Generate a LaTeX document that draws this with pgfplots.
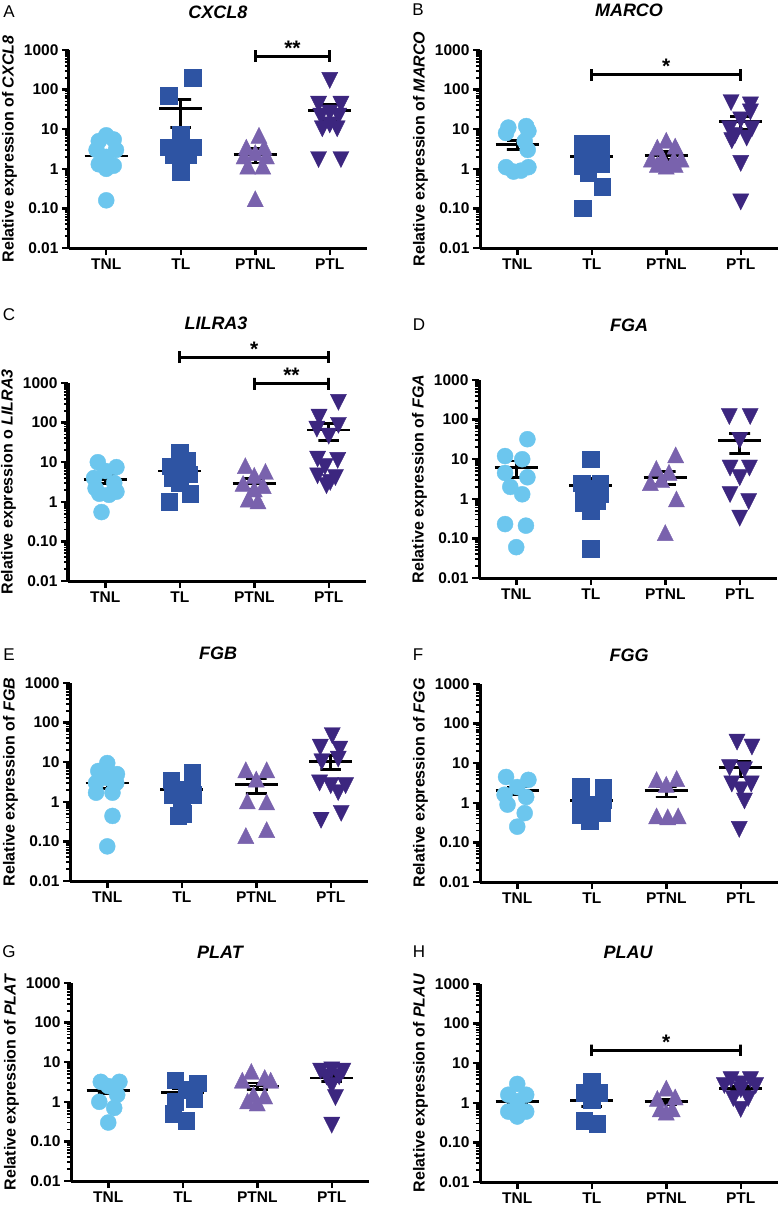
\documentclass[border=0pt]{standalone}
\usepackage{pgfplots}
\pgfplotsset{compat=1.18}
\usepackage{fontspec}
\setmainfont{Liberation Sans}
\definecolor{cTNL}{RGB}{108,198,238}
\definecolor{cTL}{RGB}{46,84,163}
\definecolor{cPTNL}{RGB}{121,98,173}
\definecolor{cPTL}{RGB}{60,38,127}
\pgfplotsset{
  every axis/.append style={
    scale only axis, width=298pt, height=198pt, anchor=south west,
    ymin=0.01, ymax=1000, xmin=-0.5, xmax=3.5,
    axis lines=left, axis line style={-, line width=3pt},
    clip=false,
    xtick={0,1,2,3}, xticklabels={TNL,TL,PTNL,PTL},
    ytick={0.01,0.1,1,10,100,1000}, yticklabels={0.01,0.10,1,10,100,1000},
    minor ytick={0.02,0.03,0.04,0.05,0.06,0.07,0.08,0.09,0.2,0.3,0.4,0.5,0.6,0.7,0.8,0.9,2,3,4,5,6,7,8,9,20,30,40,50,60,70,80,90,200,300,400,500,600,700,800,900},
    tick align=outside,
    major tick length=7pt, minor tick length=4pt,
    major tick style={line width=2.5pt, black},
    minor tick style={line width=1.8pt, black},
    tick label style={font=\fontsize{15.5}{18}\selectfont\bfseries},
    every axis y label/.style={at={(axis description cs:-0.2,0.5)}, rotate=90, anchor=center, font=\fontsize{16}{19}\selectfont\bfseries},
  },
  tnl/.style={only marks, mark=*, mark size=8pt, color=cTNL},
  tl/.style={only marks, mark=square*, mark size=8.2pt, color=cTL},
  ptnl/.style={only marks, mark=triangle*, mark size=9.3pt, color=cPTNL, mark options={yscale=1.15}},
  ptl/.style={only marks, mark=triangle*, mark size=9.3pt, color=cPTL, mark options={rotate=180, yscale=1.15}},
  semline/.style={black, line width=2.8pt, mark=none},
  brk/.style={black, line width=3pt, mark=none},
}
\tikzset{star/.style={anchor=base, inner sep=0pt, yshift=1pt, font=\fontsize{21}{24}\selectfont\bfseries},
  ttl/.style={font=\fontsize{18}{22}\selectfont\bfseries\itshape, anchor=center},
  lett/.style={font=\fontsize{17}{20}\selectfont, anchor=center}}
\newcommand{\msem}[4]{%
  \ifcase#1 \def\xa{-0.29}\def\xb{0.29}\def\xc{-0.14}\def\xd{0.14}\def\xe{0}%
  \or \def\xa{0.71}\def\xb{1.29}\def\xc{0.86}\def\xd{1.14}\def\xe{1}%
  \or \def\xa{1.71}\def\xb{2.29}\def\xc{1.86}\def\xd{2.14}\def\xe{2}%
  \or \def\xa{2.71}\def\xb{3.29}\def\xc{2.86}\def\xd{3.14}\def\xe{3}\fi
  \addplot[semline] coordinates {(\xa,#2) (\xb,#2)};
  \addplot[semline] coordinates {(\xc,#4) (\xd,#4) (\xe,#4) (\xe,#3) (\xc,#3) (\xd,#3)};
}
\begin{document}
\begin{tikzpicture}
\useasboundingbox (0,0) rectangle (781pt,-1210pt);
% ---------------- A
\begin{semilogyaxis}[at={(69pt,-248pt)}, ylabel={Relative expression of \textit{CXCL8}}]
\addplot[tnl] coordinates {(0,7) (-0.1,5) (0.1,5.5) (-0.13,3) (0.13,3) (0,2) (-0.1,1.3) (0.1,1.2) (0,1) (0,0.16)};
\addplot[tl] coordinates {(1.16,200) (0.84,70) (1,7.5) (0.84,3.5) (1.16,3.5) (1,3.0) (0.9,2.2) (1.1,2.2) (1,0.85)};
\addplot[ptnl] coordinates {(2.05,6) (1.88,3) (2.12,3) (2,2.2) (1.85,1.8) (2.15,1.8) (1.9,1.0) (2.1,1.0) (2,0.15)};
\addplot[ptl] coordinates {(3,200) (2.85,50) (3.15,50) (3,30) (2.88,25) (3.12,25) (2.9,12) (3.1,12) (3,15) (2.85,2) (3.15,2)};
\msem{0}{2.1}{1.6}{2.6}
\msem{1}{33}{11}{55}
\msem{2}{2.35}{1.4}{3.3}
\msem{3}{30}{16}{43}
\addplot[brk] coordinates {(2,496) (2,988) (2,700) (3,700) (3,988) (3,496)};
\node[star] at (axis cs:2.5,700) {**};
\end{semilogyaxis}
% ---------------- B
\begin{semilogyaxis}[at={(480pt,-248pt)}, ylabel={Relative expression of \textit{MARCO}}]
\addplot[tnl] coordinates {(-0.12,11) (0.12,12) (-0.15,8) (0.15,9) (0.1,5) (0.14,3) (-0.15,1.1) (-0.05,0.85) (0.05,0.9) (0.15,1.1)};
\addplot[tl] coordinates {(0.88,4.5) (1.12,4.5) (0.88,2.5) (1.12,2.2) (1,1.8) (0.88,1.2) (1.12,1.3) (0.95,0.8) (1.14,0.35) (0.88,0.1)};
\addplot[ptnl] coordinates {(2,4.5) (1.88,3) (2.12,3.2) (1.8,1.5) (1.95,1.6) (2.1,1.5) (2.2,1.5) (1.88,1.1) (2.12,1.1) (2,1.0)};
\addplot[ptl] coordinates {(2.87,55) (3.13,48) (3.13,32) (3,20) (2.85,12) (3.15,12) (2.92,8) (3.08,7) (2.88,6) (3,1.6) (3,0.17)};
\msem{0}{4.2}{3.1}{5.3}
\msem{1}{2.0}{1.4}{2.6}
\msem{2}{2.15}{1.7}{2.7}
\msem{3}{16}{10}{21}
\addplot[brk] coordinates {(1,166) (1,330) (1,234) (3,234) (3,330) (3,166)};
\node[star] at (axis cs:2,234) {*};
\end{semilogyaxis}
% ---------------- C
\begin{semilogyaxis}[at={(68pt,-581pt)}, ylabel={Relative expression o \textit{LILRA3}}]
\addplot[tnl] coordinates {(-0.1,10) (0.15,7.5) (0,6) (-0.15,4) (0.12,3) (-0.13,2.2) (-0.08,1.6) (0.15,1.8) (0.05,1.5) (-0.05,0.55)};
\addplot[tl] coordinates {(1,18) (1.1,11) (0.87,8) (1,7) (1.13,5) (0.9,4) (1,3) (1.14,1.6) (0.86,1.0)};
\addplot[ptnl] coordinates {(1.88,7) (2.15,5) (2,4) (1.85,2.5) (2.12,2.2) (2,1.8) (1.92,1.0) (2.05,0.9)};
\addplot[ptl] coordinates {(3.13,380) (2.87,160) (3.13,100) (2.84,80) (3,53) (2.85,14) (3.12,13) (2.95,9) (2.85,5.3) (3.09,4.8) (3.02,3.6) (2.97,3)};
\msem{0}{3.7}{2.9}{4.6}
\msem{1}{6}{4.3}{7.5}
\msem{2}{2.95}{2.1}{3.8}
\msem{3}{65}{35}{95}
\addplot[brk] coordinates {(1,3190) (1,6350) (1,4500) (3,4500) (3,6350) (3,3190)};
\node[star] at (axis cs:2,4500) {*};
\addplot[brk] coordinates {(2,680) (2,1355) (2,960) (3,960) (3,1355) (3,680)};
\node[star] at (axis cs:2.5,960) {**};
\end{semilogyaxis}
% ---------------- D
\begin{semilogyaxis}[at={(479pt,-578pt)}, ylabel={Relative expression of \textit{FGA}}]
\addplot[tnl] coordinates {(0.15,32) (-0.15,12) (0.08,10) (-0.15,4.5) (0.15,3.5) (-0.08,2) (0.08,1.3) (-0.15,0.23) (0.13,0.21) (0,0.06)};
\addplot[tl] coordinates {(1,10) (0.88,2.5) (1.13,2.5) (1,1.8) (0.9,1.2) (1.12,1.3) (0.9,0.8) (1.08,0.9) (1,0.5) (1,0.055)};
\addplot[ptnl] coordinates {(2.14,11) (1.88,5) (2.05,4) (1.8,2.2) (1.95,2.6) (2.15,0.85) (2,0.12)};
\addplot[ptl] coordinates {(2.86,140) (3.14,140) (3,35) (2.87,7) (3.13,7) (3,4) (2.87,1.5) (3.12,1.0) (3,0.38)};
\msem{0}{6.3}{3.5}{9}
\msem{1}{2.2}{1.2}{3.2}
\msem{2}{3.5}{2.3}{4.8}
\msem{3}{30}{14}{45}
\end{semilogyaxis}
% ---------------- E
\begin{semilogyaxis}[at={(70pt,-881pt)}, ylabel={Relative expression of \textit{FGB}}]
\addplot[tnl] coordinates {(0,9.5) (-0.12,6) (0.13,5) (-0.15,3) (0.12,3) (0,4) (-0.15,1.7) (0.07,1.7) (0.07,0.44) (0,0.075)};
\addplot[tl] coordinates {(1.14,5.5) (0.86,3.5) (1.14,3) (1,2) (0.88,1.5) (1.15,1.5) (1,1.0) (1.02,0.5) (0.95,0.45)};
\addplot[ptnl] coordinates {(1.86,5.5) (2.14,5.5) (2,3.2) (1.88,0.9) (2.14,0.85) (1.86,0.12) (2.14,0.17)};
\addplot[ptl] coordinates {(3.02,55) (2.86,28) (3.12,25) (2.88,12) (3.1,14) (2.85,3.5) (3.2,3.0) (3,3) (3.1,2.0) (2.87,0.4) (3.14,0.6)};
\msem{0}{3.0}{2.2}{3.8}
\msem{1}{2.0}{1.5}{2.6}
\msem{2}{2.8}{1.6}{3.8}
\msem{3}{10.5}{6.5}{15}
\end{semilogyaxis}
% ---------------- F
\begin{semilogyaxis}[at={(480pt,-882pt)}, ylabel={Relative expression of \textit{FGG}}]
\addplot[tnl] coordinates {(-0.15,4.5) (0.15,3.8) (0,2.5) (-0.17,1.6) (0.12,1.4) (-0.13,0.9) (0.1,0.55) (0,0.25)};
\addplot[tl] coordinates {(0.85,2.6) (1.15,2.5) (0.85,1.2) (1.15,1.2) (1,0.9) (0.85,0.5) (1.14,0.55) (0.97,0.35)};
\addplot[ptnl] coordinates {(1.87,3.3) (2.14,3.5) (2,2.5) (1.87,0.4) (2.02,0.38) (2.16,0.4)};
\addplot[ptl] coordinates {(2.95,40) (3.15,30) (2.85,9) (3.05,8) (2.88,3.5) (3.14,3.5) (3,2.5) (3.05,1.3) (2.98,0.25)};
\msem{0}{2.0}{1.6}{2.5}
\msem{1}{1.15}{0.85}{1.4}
\msem{2}{2.0}{1.4}{2.6}
\msem{3}{7.8}{4.5}{11}
\end{semilogyaxis}
% ---------------- G
\begin{semilogyaxis}[at={(71pt,-1181pt)}, ylabel={Relative expression of \textit{PLAT}}]
\addplot[tnl] coordinates {(-0.1,3.2) (0.15,3.2) (0,2.5) (0.12,1.5) (-0.12,1.0) (0.08,0.7) (0,0.3)};
\addplot[tl] coordinates {(0.9,3.5) (1.2,3) (1.05,2) (0.9,1) (1.15,1.2) (0.87,0.5) (1.05,0.33)};
\addplot[ptnl] coordinates {(1.92,5) (2.1,3.5) (1.8,3) (2.18,3) (1.95,1.3) (2.1,1.2) (1.87,0.9) (2,0.8)};
\addplot[ptl] coordinates {(2.85,7) (3,7.5) (3.15,7) (2.93,5) (3.1,5) (3,3) (3.05,1.5) (3,0.3)};
\msem{0}{1.9}{1.6}{2.2}
\msem{1}{1.75}{1.35}{2.1}
\msem{2}{2.5}{2.0}{3.0}
\msem{3}{4}{3.3}{4.6}
\end{semilogyaxis}
% ---------------- H
\begin{semilogyaxis}[at={(480pt,-1182pt)}, ylabel={Relative expression of \textit{PLAU}}]
\addplot[tnl] coordinates {(0,3) (-0.12,1.6) (0.12,1.6) (0,1.1) (-0.12,0.6) (0.12,0.6) (0,0.45)};
\addplot[tl] coordinates {(1,3.5) (0.9,1.8) (1.1,1.8) (1,1.2) (0.9,0.35) (1.07,0.3)};
\addplot[ptnl] coordinates {(2,2) (1.88,1.1) (2.12,1.2) (1.92,0.6) (2.08,0.6) (2,0.5)};
\addplot[ptl] coordinates {(2.87,4.5) (3.13,4.5) (2.78,3.2) (3,3.5) (3.2,3.2) (2.9,1.5) (3.1,1.5) (3,0.8) (3,2.5)};
\msem{0}{1.1}{0.95}{1.25}
\msem{1}{1.15}{0.8}{1.5}
\msem{2}{1.07}{0.9}{1.25}
\msem{3}{2.3}{2.0}{2.6}
\addplot[brk] coordinates {(1,14.9) (1,29.6) (1,21) (3,21) (3,29.6) (3,14.9)};
\node[star] at (axis cs:2,21) {*};
\end{semilogyaxis}
% titles and letters
\node[ttl] at (218pt,-12pt) {CXCL8};
\node[ttl] at (629pt,-10pt) {MARCO};
\node[ttl] at (216pt,-323pt) {LILRA3};
\node[ttl] at (629pt,-325pt) {FGA};
\node[ttl] at (218pt,-653pt) {FGB};
\node[ttl] at (629pt,-655pt) {FGG};
\node[ttl] at (220pt,-952pt) {PLAT};
\node[ttl] at (628pt,-952pt) {PLAU};
\node[lett] at (9pt,-12pt) {A};
\node[lett] at (418pt,-10pt) {B};
\node[lett] at (9pt,-315pt) {C};
\node[lett] at (419pt,-325pt) {D};
\node[lett] at (9pt,-655pt) {E};
\node[lett] at (418pt,-655pt) {F};
\node[lett] at (9pt,-952pt) {G};
\node[lett] at (419pt,-952pt) {H};
\end{tikzpicture}
\end{document}
